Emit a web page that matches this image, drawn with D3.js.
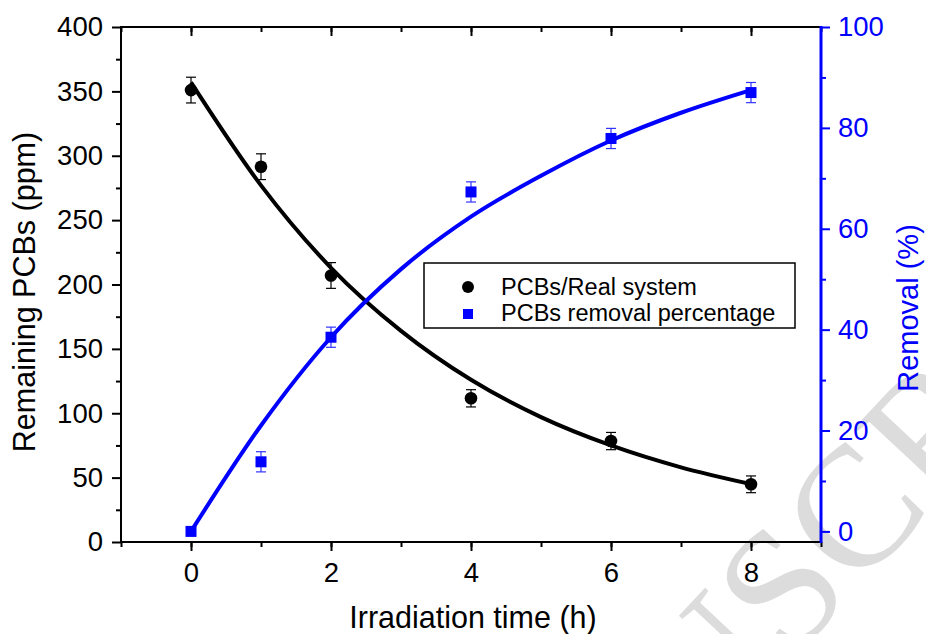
<!DOCTYPE html>
<html>
<head>
<meta charset="utf-8">
<script src="https://cdn.jsdelivr.net/npm/d3@7"></script>
<style>
  body { margin: 0; background: #fff; }
  svg { display: block; }
</style>
</head>
<body>
<div id="chart"></div>
<script>
// measured data
const times = [0, 1, 2, 4, 6, 8];
const remaining = [351, 291.5, 207, 111.6, 78.4, 44.8];
const remainingErr = [10, 10, 10, 6.7, 6.7, 6.5];
const removal = [0, 13.8, 38.5, 67.3, 77.9, 87.0];
const removalErr = [0, 2, 2, 2, 2, 2];

// fitted curves at whole hours
const fitTimes = [0, 1, 2, 3, 4, 5, 6, 7, 8];
const remainingFit = [357, 277, 213, 164, 126, 97, 75, 58, 45];
const removalFit = [0, 21, 38.5, 52, 62.4, 70.5, 77.5, 83, 87.5];

const xTicks = [0, 2, 4, 6, 8];
const leftTicks = [0, 50, 100, 150, 200, 250, 300, 350, 400];
const rightTicks = [0, 20, 40, 60, 80, 100];

const W = 926, H = 634;
const margin = {top: 27, right: 105, bottom: 92, left: 121};
const BLUE = '#0000ff';
const FONT = '"Liberation Sans", Arial, sans-serif';
const TICK_FS = 27.5;

const svg = d3.select('#chart').append('svg')
    .attr('width', W)
    .attr('height', H)
    .attr('font-family', FONT);

// watermark
const wm = svg.append('g')
    .attr('transform', 'translate(790,662) rotate(-47)')
    .attr('fill', '#dcdcdc')
    .attr('font-family', '"Liberation Serif", "DejaVu Serif", serif')
    .attr('font-size', 172);
wm.append('text').attr('text-anchor', 'start').text('SCRIPT');
wm.append('text').attr('text-anchor', 'end').text('ACCEPTED MANU');

const x = d3.scaleLinear().domain([-1, 9]).range([margin.left, W - margin.right]);
const yL = d3.scaleLinear().domain([0, 400]).range([H - margin.bottom, margin.top]);
const yR = d3.scaleLinear().domain([-2.1, 100]).range([H - margin.bottom, margin.top]);

const x0 = margin.left, x1 = W - margin.right;
const y0 = H - margin.bottom, y1 = margin.top;

const styleAxis = (g, color) => {
  g.select('.domain').remove();
  g.selectAll('line').attr('stroke', color).attr('stroke-width', 2);
  g.selectAll('text').attr('fill', color).attr('font-size', TICK_FS)
      .attr('font-family', FONT);
};

// bottom axis
svg.append('g')
    .attr('transform', `translate(0,${y0})`)
    .call(d3.axisBottom(x).tickValues(d3.range(-1, 10)).tickSize(5).tickFormat(''))
    .call((g) => styleAxis(g, '#000'));
svg.append('g')
    .attr('transform', `translate(0,${y0})`)
    .call(d3.axisBottom(x).tickValues(xTicks).tickSize(9).tickPadding(11))
    .call((g) => styleAxis(g, '#000'));

// top axis, inward ticks
svg.append('g')
    .attr('transform', `translate(0,${y1})`)
    .call(d3.axisTop(x).tickValues(d3.range(-1, 10)).tickSize(-5).tickFormat(''))
    .call((g) => styleAxis(g, '#000'));
svg.append('g')
    .attr('transform', `translate(0,${y1})`)
    .call(d3.axisTop(x).tickValues(xTicks).tickSize(-9).tickFormat(''))
    .call((g) => styleAxis(g, '#000'));

// left axis
svg.append('g')
    .attr('transform', `translate(${x0},0)`)
    .call(d3.axisLeft(yL).tickValues(d3.range(25, 400, 50)).tickSize(5).tickFormat(''))
    .call((g) => styleAxis(g, '#000'));
svg.append('g')
    .attr('transform', `translate(${x0},0)`)
    .call(d3.axisLeft(yL).tickValues(leftTicks).tickSize(9).tickPadding(9))
    .call((g) => styleAxis(g, '#000'));

// right axis
svg.append('g')
    .attr('transform', `translate(${x1},0)`)
    .call(d3.axisRight(yR).tickValues(d3.range(10, 100, 20)).tickSize(5).tickFormat(''))
    .call((g) => styleAxis(g, BLUE));
svg.append('g')
    .attr('transform', `translate(${x1},0)`)
    .call(d3.axisRight(yR).tickValues(rightTicks).tickSize(9).tickPadding(8))
    .call((g) => styleAxis(g, BLUE));

// axis lines
svg.append('line').attr('x1', x0).attr('x2', x1).attr('y1', y0).attr('y2', y0)
    .attr('stroke', '#000').attr('stroke-width', 2);
svg.append('line').attr('x1', x0).attr('x2', x1).attr('y1', y1).attr('y2', y1)
    .attr('stroke', '#000').attr('stroke-width', 2);
svg.append('line').attr('x1', x0).attr('x2', x0).attr('y1', y0 + 1).attr('y2', y1 - 1)
    .attr('stroke', '#000').attr('stroke-width', 2);
svg.append('line').attr('x1', x1).attr('x2', x1).attr('y1', y0 + 1).attr('y2', y1 - 1)
    .attr('stroke', BLUE).attr('stroke-width', 3);

// axis titles
svg.append('text')
    .attr('x', (x0 + x1) / 2 + 2).attr('y', 628)
    .attr('text-anchor', 'middle').attr('font-size', 30.5)
    .text('Irradiation time (h)');
svg.append('text')
    .attr('transform', 'translate(35,292) rotate(-90)')
    .attr('text-anchor', 'middle').attr('font-size', 30.5)
    .text('Remaining PCBs (ppm)');
svg.append('text')
    .attr('transform', 'translate(918,308) rotate(-90)')
    .attr('text-anchor', 'middle').attr('font-size', 29)
    .attr('fill', BLUE)
    .text('Removal (%)');

// error bars
const errBars = (vals, errs, scale, color) => {
  const g = svg.append('g').attr('stroke', color).attr('stroke-width', 1.2);
  times.forEach((t, i) => {
    if (!errs[i]) return;
    const cx = x(t);
    const top = scale(vals[i] + errs[i]);
    const bot = scale(vals[i] - errs[i]);
    g.append('line').attr('x1', cx).attr('x2', cx).attr('y1', top).attr('y2', bot);
    g.append('line').attr('x1', cx - 5).attr('x2', cx + 5).attr('y1', top).attr('y2', top);
    g.append('line').attr('x1', cx - 5).attr('x2', cx + 5).attr('y1', bot).attr('y2', bot);
  });
};
errBars(remaining, remainingErr, yL, '#000');
errBars(removal, removalErr, yR, '#3333ff');

// markers
svg.append('g').selectAll('circle')
    .data(times)
    .join('circle')
    .attr('cx', (d) => x(d))
    .attr('cy', (d, i) => yL(remaining[i]))
    .attr('r', 6.3)
    .attr('fill', '#000');

svg.append('g').selectAll('rect')
    .data(times)
    .join('rect')
    .attr('x', (d) => x(d) - 5.5)
    .attr('y', (d, i) => yR(removal[i]) - 5.5)
    .attr('width', 11)
    .attr('height', 11)
    .attr('fill', BLUE);

// fit curves
const lineL = d3.line()
    .x((d) => x(d))
    .y((d, i) => yL(remainingFit[i]))
    .curve(d3.curveMonotoneX);
const lineR = d3.line()
    .x((d) => x(d))
    .y((d, i) => yR(removalFit[i]))
    .curve(d3.curveMonotoneX);

svg.append('path')
    .attr('d', lineL(fitTimes))
    .attr('fill', 'none')
    .attr('stroke', '#000')
    .attr('stroke-width', 4);
svg.append('path')
    .attr('d', lineR(fitTimes))
    .attr('fill', 'none')
    .attr('stroke', BLUE)
    .attr('stroke-width', 4);

// legend
const legend = svg.append('g').attr('transform', 'translate(424,263)');
legend.append('rect')
    .attr('width', 371).attr('height', 65)
    .attr('fill', '#fff').attr('stroke', '#000').attr('stroke-width', 1.5);
legend.append('circle').attr('cx', 44).attr('cy', 24).attr('r', 6).attr('fill', '#000');
legend.append('rect').attr('x', 39).attr('y', 46).attr('width', 10).attr('height', 10)
    .attr('fill', BLUE);
legend.append('text').attr('x', 77).attr('y', 32).attr('font-size', 23.5)
    .text('PCBs/Real system');
legend.append('text').attr('x', 77).attr('y', 58).attr('font-size', 23.5)
    .text('PCBs removal percentage');
</script>
</body>
</html>
